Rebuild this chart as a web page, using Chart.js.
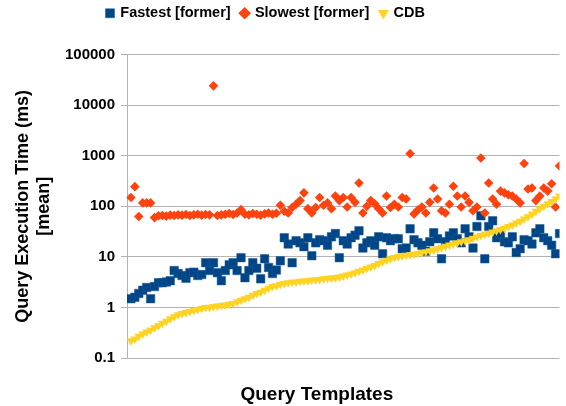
<!DOCTYPE html>
<html>
<head>
<meta charset="utf-8">
<script src="https://cdn.jsdelivr.net/npm/chart.js@4/dist/chart.umd.min.js"></script>
<style>
  html, body { margin: 0; padding: 0; background: #fff; }
  #wrap { width: 566px; height: 406px; }
</style>
</head>
<body>
<div id="wrap"><canvas id="chart"></canvas></div>
<script>
// Query template index 1..110
const templates = Array.from({ length: 110 }, (_, i) => i + 1);

// Fastest time of the former systems (ms)
const fastest = [
  1.5, 1.6, 1.9, 2.2, 2.5, 1.5, 2.6, 3.1, 3.1, 3.2,
  3.4, 5.4, 4.7, 4.3, 3.8, 4.9, 5.0, 4.3, 4.5, 7.7,
  5.4, 7.7, 4.9, 3.4, 5.4, 7.0, 7.7, 5.4, 9.7, 3.9,
  5.4, 7.7, 6.0, 3.7, 9.2, 6.2, 4.7, 5.5, 8.4, 24,
  18, 7.7, 21, 19, 16, 24, 10.6, 19, 22, 21,
  17, 25, 29, 9.7, 21, 18, 24, 27, 33, 15,
  19, 21, 17, 25, 11.6, 24, 21, 23, 23, 14.6,
  15, 36, 22, 19, 17, 13, 20, 30, 23, 9.2,
  20, 26, 30, 23, 19, 36, 25, 15, 40, 65,
  9.2, 40, 52, 24, 28, 20, 19, 25, 12.2, 14.6,
  22, 21, 18, 30, 36, 24, 21, 17, 11.6, 29
];

// Slowest time of the former systems (ms)
const slowest = [
  150, 245, 63, 117, 117, 117, 60, 65, 66, 64,
  67, 66, 68, 67, 69, 66, 68, 70, 67, 69,
  68, 24000, 66, 68, 70, 72, 69, 74, 86, 70,
  68, 72, 70, 67, 71, 74, 70, 73, 105, 80,
  74, 95, 110, 130, 185, 90, 74, 95, 150, 105,
  117, 90, 160, 130, 150, 97, 150, 120, 290, 74,
  100, 130, 112, 90, 74, 160, 95, 110, 97, 150,
  140, 1100, 71, 85, 97, 74, 120, 230, 140, 82,
  74, 110, 250, 160, 97, 160, 120, 82, 97, 900,
  74, 290, 140, 110, 200, 185, 170, 160, 140, 117,
  700, 220, 230, 130, 160, 230, 200, 280, 97, 630
];

// CDB time (ms)
const cdb = [
  0.22, 0.24, 0.27, 0.3, 0.33, 0.36, 0.4, 0.44, 0.49, 0.54,
  0.6, 0.66, 0.72, 0.76, 0.8, 0.84, 0.88, 0.92, 0.96, 1.0,
  1.02, 1.05, 1.08, 1.1, 1.13, 1.16, 1.2, 1.3, 1.4, 1.5,
  1.6, 1.75, 1.9, 2.0, 2.2, 2.4, 2.6, 2.7, 2.9, 3.0,
  3.1, 3.15, 3.2, 3.3, 3.35, 3.4, 3.5, 3.55, 3.6, 3.7,
  3.8, 3.85, 3.9, 4.0, 4.2, 4.4, 4.6, 4.9, 5.2, 5.5,
  5.9, 6.3, 6.8, 7.4, 8.0, 8.6, 9.2, 9.8, 10.2, 10.5,
  10.8, 11.1, 11.4, 11.8, 12.2, 12.7, 13.2, 13.8, 14.5, 15.3,
  16.2, 17.2, 18, 19, 20, 21, 22, 23.5, 25, 26.5,
  28, 29.5, 31, 33, 35, 37, 40, 43, 47, 51,
  56, 62, 70, 80, 90, 100, 112, 125, 140, 160
];

const yTicks = [0.1, 1, 10, 100, 1000, 10000, 100000];

const pts = arr => arr.map((v, i) => ({ x: templates[i], y: v }));
const FONT = "'Liberation Sans', Arial, sans-serif";

// leave extra room between legend and plot, and nudge the legend row left
const legendGap = {
  id: 'legendGap',
  beforeLayout(chart) {
    const lg = chart.legend;
    if (lg && !lg._gapPatched) {
      const fit = lg.fit;
      lg.fit = function () {
        fit.call(this);
        this.height += 24;
        if (this.lineWidths) this.lineWidths[0] += 34;
      };
      lg._gapPatched = true;
    }
  }
};

new Chart(document.getElementById('chart'), {
  type: 'scatter',
  data: {
    datasets: [
      {
        label: 'Fastest [former]',
        data: pts(fastest),
        pointStyle: 'rect',
        pointRadius: 6,
        backgroundColor: '#004586',
        borderColor: '#1a5a96',
        borderWidth: 0.5,
        order: 2
      },
      {
        label: 'Slowest [former]',
        data: pts(slowest),
        pointStyle: 'rectRot',
        pointRadius: 4.8,
        backgroundColor: '#ff420e',
        borderColor: '#ff420e',
        borderWidth: 0,
        order: 1
      },
      {
        label: 'CDB',
        data: pts(cdb),
        pointStyle: 'triangle',
        pointRotation: 180,
        pointRadius: 5,
        backgroundColor: '#ffd320',
        borderColor: '#ffd320',
        borderWidth: 0,
        order: 0
      }
    ]
  },
  plugins: [legendGap],
  options: {
    responsive: true,
    maintainAspectRatio: false,
    animation: false,
    layout: { padding: { top: -5, right: 0, left: 0, bottom: 0 } },
    plugins: {
      legend: {
        position: 'top',
        labels: {
          usePointStyle: true,
          boxWidth: 6,
          boxHeight: 9,
          padding: 11,
          color: '#000',
          font: { family: FONT, size: 14.5, weight: 'bold' },
          sort: (a, b) => a.datasetIndex - b.datasetIndex
        }
      },
      tooltip: { enabled: false }
    },
    scales: {
      x: {
        type: 'linear',
        min: 0,
        max: 110,
        grid: { display: false },
        border: { display: false },
        ticks: { display: false },
        title: {
          display: true,
          text: 'Query Templates          ',
          color: '#000',
          font: { family: FONT, size: 19, weight: 'bold' },
          padding: { top: 17, bottom: 0 }
        }
      },
      y: {
        type: 'logarithmic',
        min: 0.1,
        max: 100000,
        afterBuildTicks: scale => {
          scale.ticks = yTicks.map(v => ({ value: v }));
        },
        afterFit: scale => { scale.width = 127; },
        ticks: {
          color: '#000',
          padding: 6,
          font: { family: FONT, size: 15, weight: 'bold' },
          callback: v => String(v)
        },
        grid: { color: '#b3b3b3', tickLength: 6 },
        border: { color: '#b3b3b3' },
        title: {
          display: true,
          text: ['Query Execution Time (ms)', '[mean]'],
          color: '#000',
          font: { family: FONT, size: 18, weight: 'bold' },
          padding: { top: 12, bottom: 0 }
        }
      }
    }
  }
});
</script>
</body>
</html>
